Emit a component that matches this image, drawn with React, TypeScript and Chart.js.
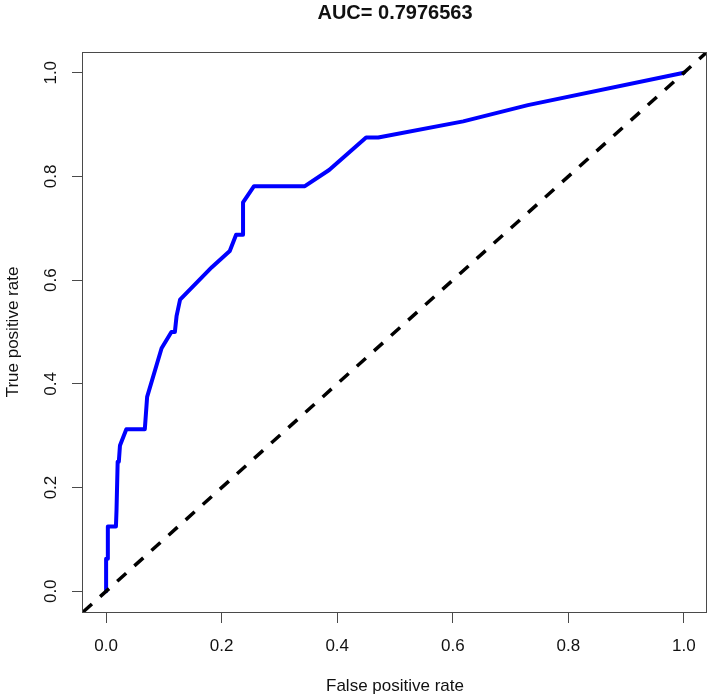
import React, { useEffect, useRef } from "react";
import { Chart, registerables } from "chart.js";

Chart.register(...registerables);

const TITLE = "AUC= 0.7976563";
const X_TITLE = "False positive rate";
const Y_TITLE = "True positive rate";

// ROC curve (false positive rate, true positive rate)
const FPR = [
  0, 0, 0.002, 0.003, 0.017, 0.018, 0.02, 0.022, 0.024, 0.035, 0.067, 0.071,
  0.096, 0.113, 0.119, 0.122, 0.128, 0.183, 0.214, 0.225, 0.237, 0.237, 0.256,
  0.344, 0.386, 0.45, 0.471, 0.618, 0.73, 1,
];
const TPR = [
  0, 0.0625, 0.0625, 0.125, 0.125, 0.15625, 0.25, 0.25, 0.28125, 0.3125,
  0.3125, 0.375, 0.46875, 0.5, 0.5, 0.53125, 0.5625, 0.625, 0.65625, 0.6875,
  0.6875, 0.75, 0.78125, 0.78125, 0.8125, 0.875, 0.875, 0.90625, 0.9375, 1,
];

// Reference diagonal y = x across the full plotting region
const DIAG_X = [-0.04, 1.04];
const DIAG_Y = [-0.04, 1.04];

const AXIS_MIN = -0.04;
const AXIS_MAX = 1.04;
const X_TICKS = [0, 0.2, 0.4, 0.6, 0.8, 1.0];
const X_TICK_LABELS = ["0.0", "0.2", "0.4", "0.6", "0.8", "1.0"];
const Y_TICKS = [0, 0.2, 0.4, 0.6, 0.8, 1.0];
const Y_TICK_LABELS = ["0.0", "0.2", "0.4", "0.6", "0.8", "1.0"];

const FONT = '"Liberation Sans", Arial, Helvetica, sans-serif';

const labelsPlugin = {
  id: "rLabels",
  afterDraw(chart: any) {
    const { ctx, chartArea } = chart;
    const xs = chart.scales.x;
    const ys = chart.scales.y;
    ctx.save();
    // box
    ctx.strokeStyle = "#4a4a4a";
    ctx.lineWidth = 1;
    ctx.strokeRect(
      Math.round(chartArea.left) - 0.5,
      Math.round(chartArea.top) + 0.5,
      Math.round(chartArea.right) - Math.round(chartArea.left),
      Math.round(chartArea.bottom) - Math.round(chartArea.top)
    );
    ctx.fillStyle = "#111";
    ctx.font = `17px ${FONT}`;
    ctx.textAlign = "center";
    ctx.textBaseline = "alphabetic";
    X_TICKS.forEach((v, i) => {
      ctx.fillText(X_TICK_LABELS[i], xs.getPixelForValue(v), chartArea.bottom + 39);
    });
    Y_TICKS.forEach((v, i) => {
      ctx.save();
      ctx.translate(chartArea.left - 27, ys.getPixelForValue(v));
      ctx.rotate(-Math.PI / 2);
      ctx.fillText(Y_TICK_LABELS[i], 0, 0);
      ctx.restore();
    });
    const cx = (chartArea.left + chartArea.right) / 2;
    const cy = (chartArea.top + chartArea.bottom) / 2;
    ctx.fillText(X_TITLE, cx, chartArea.bottom + 79);
    ctx.save();
    ctx.translate(chartArea.left - 65, cy);
    ctx.rotate(-Math.PI / 2);
    ctx.fillText(Y_TITLE, 0, 0);
    ctx.restore();
    ctx.font = `bold 20px ${FONT}`;
    ctx.fillText(TITLE, cx, 19);
    ctx.restore();
  },
};

export default function App() {
  const ref = useRef<HTMLCanvasElement | null>(null);
  useEffect(() => {
    document.body.style.margin = "0";
    const canvas = ref.current;
    if (!canvas) return;
    const chart = new Chart(canvas, {
      type: "scatter",
      data: {
        datasets: [
          {
            label: "chance",
            data: DIAG_X.map((x, i) => ({ x, y: DIAG_Y[i] })),
            showLine: true,
            borderColor: "#000000",
            borderWidth: 3.5,
            borderDash: [12, 11],
            borderCapStyle: "butt",
            pointRadius: 0,
            order: 0,
          },
          {
            label: "ROC",
            data: FPR.map((x, i) => ({ x, y: TPR[i] })),
            showLine: true,
            borderColor: "#0000FF",
            borderWidth: 4,
            borderJoinStyle: "round",
            borderCapStyle: "round",
            pointRadius: 0,
            tension: 0,
            order: 1,
          },
        ],
      },
      options: {
        animation: false,
        responsive: false,
        devicePixelRatio: 1,
        layout: { padding: { top: 52, right: 2, left: 0, bottom: 0 } },
        plugins: {
          legend: { display: false },
          tooltip: { enabled: false },
          title: { display: false },
        },
        scales: {
          x: {
            type: "linear",
            min: AXIS_MIN,
            max: AXIS_MAX,
            afterBuildTicks: (s: any) => {
              s.ticks = X_TICKS.map((v) => ({ value: v }));
            },
            afterFit: (s: any) => {
              s.height = 87;
            },
            grid: {
              display: true,
              drawOnChartArea: false,
              drawTicks: true,
              tickLength: 11,
              color: "#4a4a4a",
              lineWidth: 1,
            },
            border: { display: false },
            ticks: { display: false },
          },
          y: {
            type: "linear",
            min: AXIS_MIN,
            max: AXIS_MAX,
            afterBuildTicks: (s: any) => {
              s.ticks = Y_TICKS.map((v) => ({ value: v }));
            },
            afterFit: (s: any) => {
              s.width = 83;
            },
            grid: {
              display: true,
              drawOnChartArea: false,
              drawTicks: true,
              tickLength: 11,
              color: "#4a4a4a",
              lineWidth: 1,
            },
            border: { display: false },
            ticks: { display: false },
          },
        },
      },
      plugins: [labelsPlugin],
    });
    return () => chart.destroy();
  }, []);
  return (
    <div style={{ position: "absolute", left: 0, top: 0, width: 709, height: 699, background: "#fff" }}>
      <canvas ref={ref} width={709} height={699} style={{ width: 709, height: 699, display: "block" }} />
    </div>
  );
}
